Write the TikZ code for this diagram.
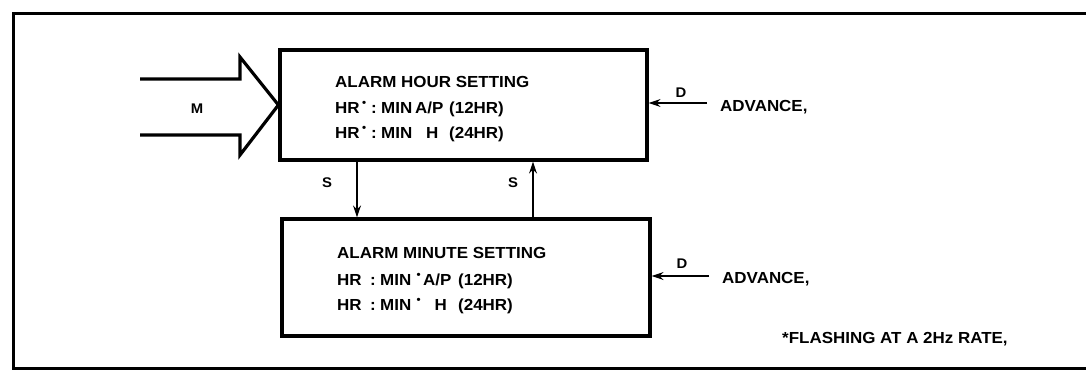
\documentclass[tikz,border=0pt]{standalone}
\usepackage{fontspec}
\setmainfont{Liberation Sans}[FakeStretch=1.06]
\usetikzlibrary{arrows.meta}
\newcommand{\cbox}[3]{\makebox[#1pt][#2]{#3}}
\newcommand{\fbul}{\raisebox{0.38em}{\fontsize{11}{11}\selectfont •}}
\begin{document}
\begin{tikzpicture}[x=1pt,y=-1pt,
  txt/.style={font=\fontsize{16}{16}\selectfont\bfseries, inner sep=0pt, anchor=base west},
  lbl/.style={font=\fontsize{14}{14}\selectfont\bfseries, inner sep=0pt, anchor=base},
  sbox/.style={draw, line width=3.2pt, inner sep=0pt},
  arr/.style={line width=1.5pt, -{Stealth[length=12pt,width=8pt]}},
  frame/.style={line width=3pt},
  bigarrow/.style={line width=3.2pt, line join=miter}
]
\useasboundingbox (0,0) rectangle (1086,373);
% outer frame (open on the right)
\coordinate (f1) at (1086,13);
\coordinate (f2) at (13,13);
\coordinate (f3) at (13,368);
\coordinate (f4) at (1086,368);
\draw[frame] (f1) -- (f2) -- (f3) -- (f4);

% boxes
\node[sbox, minimum width=367pt, minimum height=110pt] (hbox) at (463.5,105) {};
\node[sbox, minimum width=368pt, minimum height=117pt] (lbox) at (466,277.5) {};

% box texts
\node[txt] (h1) at (335,87) {ALARM HOUR SETTING};
\node[txt] (h2) at (335,113) {\cbox{25}{l}{HR}\cbox{8}{c}{\fbul}\hspace{3pt}\cbox{10}{l}{:}\cbox{34}{l}{MIN}\cbox{34}{l}{A/P}(12HR)};
\node[txt] (h3) at (335,138) {\cbox{25}{l}{HR}\cbox{8}{c}{\fbul}\hspace{3pt}\cbox{10}{l}{:}\cbox{34}{l}{MIN}\cbox{34}{c}{H}(24HR)};

\node[txt] (l1) at (337,258) {ALARM MINUTE SETTING};
\node[txt] (l2) at (337,285) {\cbox{33}{l}{HR}\cbox{10}{l}{:}\cbox{34}{l}{MIN}\cbox{9}{c}{\fbul}\cbox{35}{l}{A/P}(12HR)};
\node[txt] (l3) at (337,310) {\cbox{33}{l}{HR}\cbox{10}{l}{:}\cbox{34}{l}{MIN}\cbox{9}{c}{\fbul}\cbox{35}{c}{H}(24HR)};

% big input arrow M
\coordinate (m1) at (140,79);
\coordinate (m2) at (240,79);
\coordinate (m3) at (240,57);
\coordinate (m5) at (240,155);
\coordinate (m6) at (240,135);
\coordinate (m7) at (140,135);
\draw[bigarrow] (m1) -- (m2) -- (m3) -- (hbox.west) -- (m5) -- (m6) -- (m7);
\node[lbl] (mlab) at (197,113) {M};

% S arrows
\coordinate (xa) at (357,0);
\coordinate (xb) at (533,0);
\draw[arr] (hbox.south -| xa) -- (lbox.north -| xa);
\draw[arr] (lbox.north -| xb) -- (hbox.south -| xb);
\node[lbl] (s1) at (327,187) {S};
\node[lbl] (s2) at (513,187) {S};

% D arrows
\coordinate (da) at (707,103);
\coordinate (db) at (709,276);
\draw[arr] (da) -- (da -| hbox.east);
\draw[arr] (db) -- (db -| lbox.east);
\node[lbl] (d1) at (681,97) {D};
\node[lbl] (d2) at (682,268) {D};
\node[txt] (adv1) at (720,111) {ADVANCE,};
\node[txt] (adv2) at (722,283) {ADVANCE,};

% footnote
\node[txt] (note) at (782,343) {*FLASHING AT A 2Hz RATE,};
\end{tikzpicture}
\end{document}
